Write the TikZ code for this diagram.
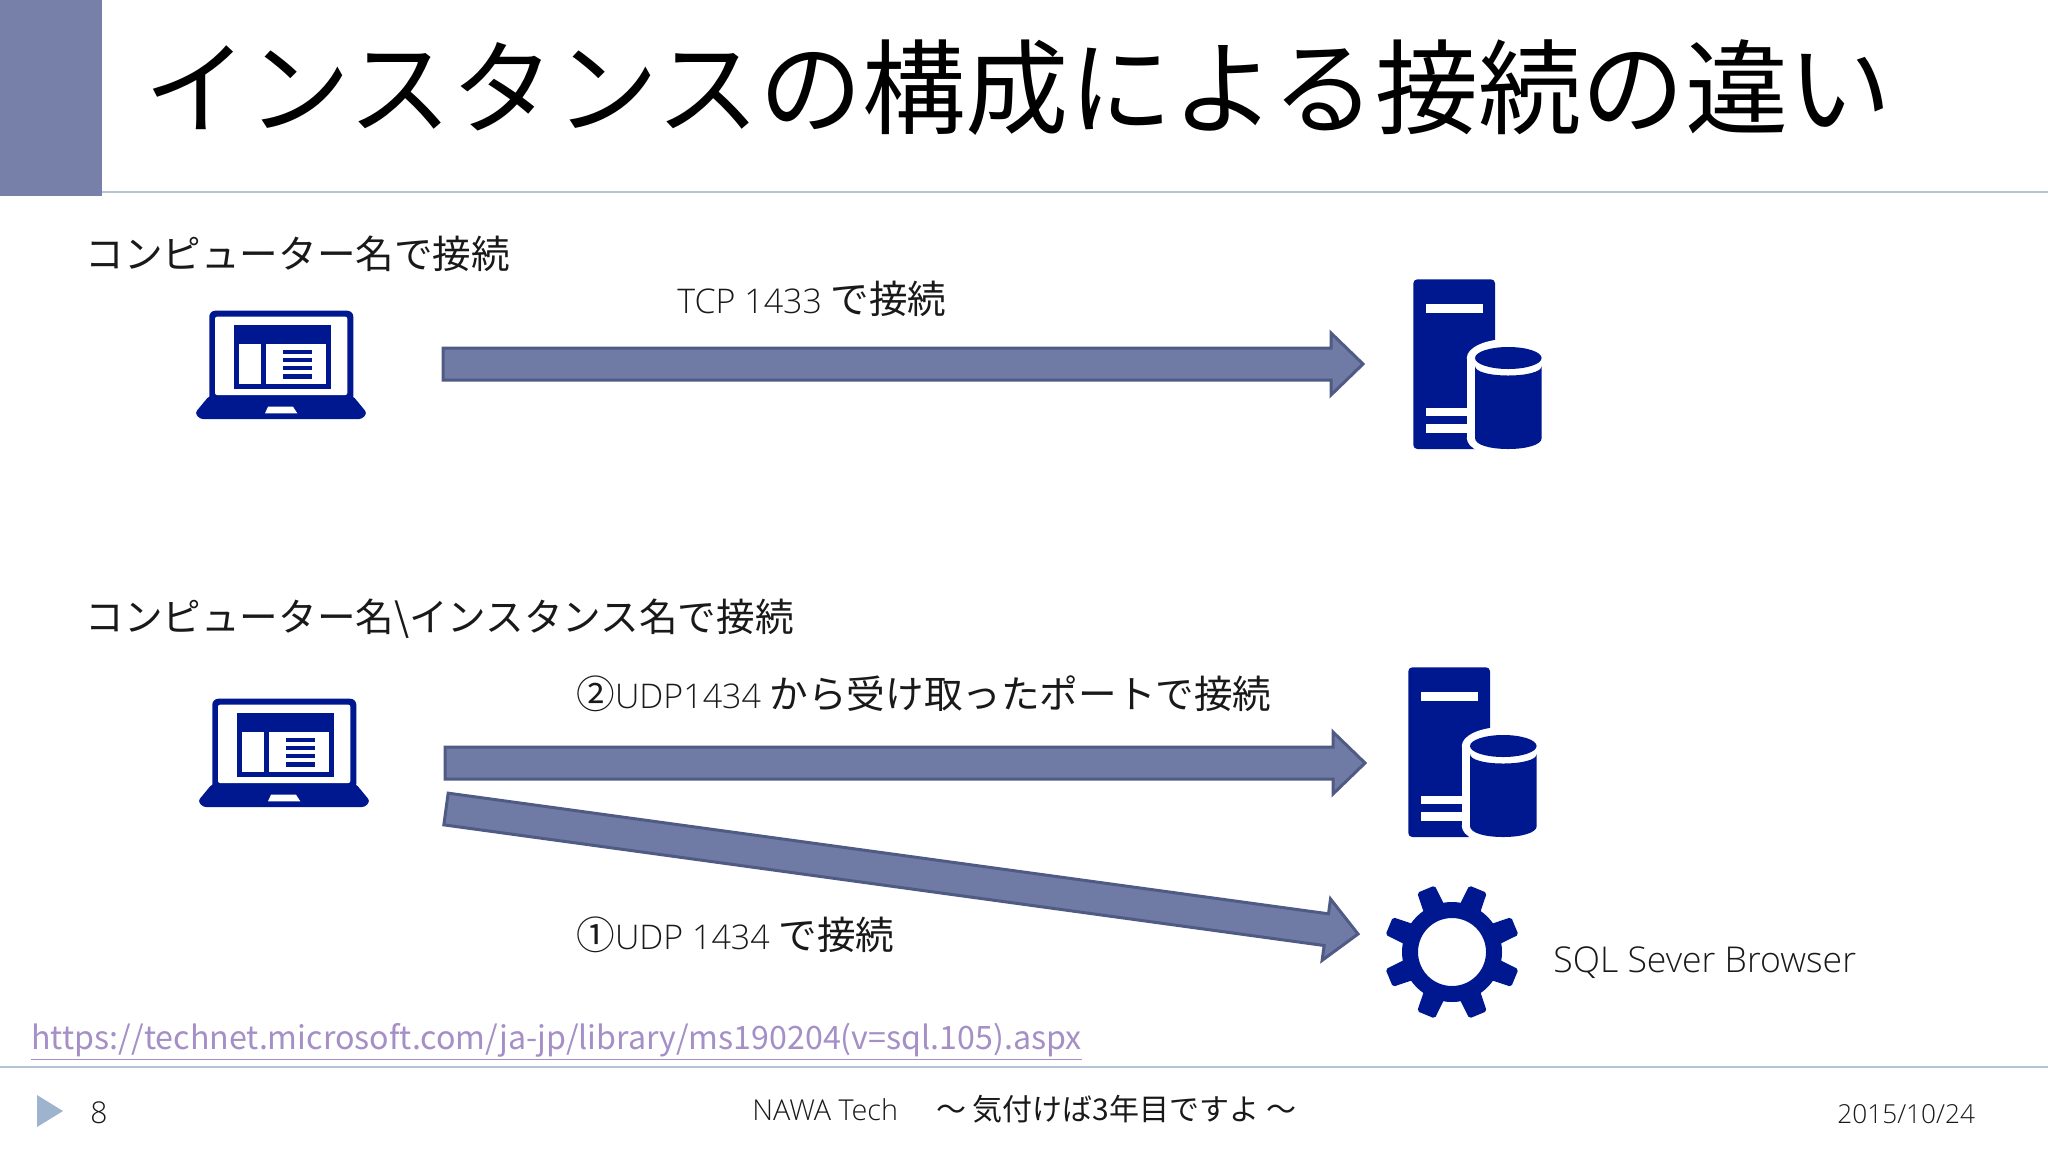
\documentclass[tikz,border=0pt]{standalone}
\usepackage{fontspec}
\setmainfont{Noto Sans CJK JP}
\newfontfamily\latinfont{Open Sans}[UprightFont=* Light]
\usetikzlibrary{calc}

\definecolor{iconblue}{HTML}{00188F}
\definecolor{arrowfill}{HTML}{6F7BA5}
\definecolor{arrowline}{HTML}{4F5A85}
\definecolor{headblock}{HTML}{7680A8}
\definecolor{ruleblue}{HTML}{B4C3D6}
\definecolor{markerblue}{HTML}{9DB3CE}
\definecolor{linkpurple}{HTML}{A58FC7}

\newcommand{\labelfont}{\fontsize{19.3}{23}\selectfont}
\newcommand{\labellatin}{\fontsize{17}{23}\selectfont\latinfont}

\tikzset{
    txt/.style={anchor=base west,inner sep=0pt,text=black!90},
    blockarrow/.style={draw=arrowline,fill=arrowfill,line width=1.5pt,to path={
        -- ($(\tikztostart)!8pt!90:(\tikztotarget)$)
        -- ($(\tikztotarget)!16pt!(\tikztostart)!8pt!-90:(\tikztostart)$)
        -- ($(\tikztotarget)!16pt!(\tikztostart)!15.5pt!-90:(\tikztostart)$)
        -- (\tikztotarget)
        -- ($(\tikztotarget)!16pt!(\tikztostart)!15.5pt!90:(\tikztostart)$)
        -- ($(\tikztotarget)!16pt!(\tikztostart)!8pt!90:(\tikztostart)$)
        -- ($(\tikztostart)!8pt!-90:(\tikztotarget)$)
        -- cycle}},
    laptop/.pic={
        \fill[iconblue,rounded corners=3pt] (29.3,112) -- (29.3,20.7) -- (173.3,20.7) -- (173.3,112) -- cycle;
        \fill[white,rounded corners=1pt] (35,26.7) -- (167.3,26.7) -- (167.3,105) -- (35,105) -- cycle;
        \fill[iconblue,rounded corners=1.5pt] (29,106) -- (173,106) -- (187,123) -- (182,129) -- (20,129) -- (15,123) -- cycle;
        \fill[iconblue] (54.3,35) rectangle (151,99.3);
        \fill[white] (59,54) rectangle (81.3,94.3);
        \fill[white] (86.3,54) rectangle (146,94.3);
        \foreach \y/\h in {60/64,68/72.3,76/80.3,84/89} {
            \fill[iconblue] (102.7,\y) rectangle (132.3,\h);
        }
        \fill[white] (88,116.7) -- (113,116.7) -- (117.3,123.3) -- (85,123.3) -- cycle;
    },
    server/.pic={
        \fill[iconblue,rounded corners=2pt] (33.3,189) -- (33.3,19.3) -- (115,19.3) -- (115,189) -- cycle;
        \fill[white] (45.7,44.3) rectangle (103.3,53.3);
        \fill[white] (45.7,148) rectangle (90,156);
        \fill[white] (45.7,164) rectangle (90,172.7);
        % halo and cylinder
        \fill[white] (128.3,98) ellipse (41.5 and 19);
        \fill[white] (86.8,98) rectangle (169.8,178);
        \fill[white] (128.3,178) ellipse (41.5 and 19);
        \fill[iconblue] (128.3,98) ellipse (33.3 and 11);
        \fill[iconblue] (95,106) .. controls (95,112) and (110,115.5) .. (128.3,115.5)
            .. controls (146,115.5) and (161.7,112) .. (161.7,106) -- (161.7,178)
            .. controls (161.7,185) and (146,189) .. (128.3,189)
            .. controls (110,189) and (95,185) .. (95,178) -- cycle;
    },
    gear/.pic={
        \fill[iconblue,even odd rule] (0,0) circle (50) (0,0) circle (34);
        \foreach \a in {22.5,67.5,...,337.5} {
            \fill[iconblue,rotate=\a,rounded corners=1pt] (46,-11) -- (68,-9.5) -- (68,9.5) -- (46,11) -- cycle;
        }
    }
}

\begin{document}
\begin{tikzpicture}[x=0.5pt,y=-0.5pt,line cap=butt,line join=miter]

\useasboundingbox (0,0) rectangle (2048,1152);

% header
\fill[headblock] (0,0) rectangle (102,196);
\draw[ruleblue,line width=1pt] (102,192) -- (2048,192);
\node[txt,text=black,font=\fontsize{51.6}{55}\selectfont] (title) at (144,126) {インスタンスの構成による接続の違い};

% first row
\node[txt,font=\labelfont] (rowA) at (85,268) {コンピューター名で接続};
\node[txt,font=\labelfont] (labelA) at (677,313) {{\labellatin TCP 1433} で接続};
\pic at (180,290) {laptop};
\pic at (1380,260) {server};
\coordinate (lapAport) at (443,364);
\coordinate (srvAport) at (1363,364);
\draw[blockarrow] (lapAport) to (srvAport);

% second row
\node[txt,font=\labelfont] (rowB) at (85,631) {コンピューター名\textbackslash インスタンス名で接続};
\node[txt,font=\labelfont] (labelB) at (576,708) {②{\labellatin UDP1434} から受け取ったポートで接続};
\node[txt,font=\labelfont] (labelC) at (576,949) {①{\labellatin UDP 1434} で接続};
\node[txt,font=\fontsize{17.8}{23}\selectfont\latinfont] (browser) at (1553,972) {SQL Sever Browser};
\pic at (183,678) {laptop};
\pic at (1375,648) {server};
\pic at (1452,952) {gear};
\coordinate (lapBport) at (445,763);
\coordinate (srvBport) at (1365,763);
\coordinate (lapBlow) at (446,809);
\coordinate (gearport) at (1358,934);
\draw[blockarrow] (lapBport) to (srvBport);
\draw[blockarrow] (lapBlow) to (gearport);

% footer
\node[txt,text=linkpurple,font=\fontsize{16.1}{20}\selectfont] (link) at (31,1049) {\underline{https://technet.microsoft.com/ja-jp/library/ms190204(v=sql.105).aspx}};
\draw[ruleblue,line width=1pt] (0,1067) -- (2048,1067);
\fill[markerblue] (37,1095) -- (63,1111) -- (37,1127) -- cycle;
\node[txt,font=\fontsize{15}{18}\selectfont\latinfont] (page) at (90,1123) {8};
\node[txt,font=\fontsize{15}{18}\selectfont] (foot) at (752,1120) {{\fontsize{14.4}{18}\selectfont\latinfont NAWA Tech}\hspace{4pt}　～ 気付けば3年目ですよ ～};
\node[txt,font=\fontsize{13.1}{18}\selectfont\latinfont] (date) at (1837,1123) {2015/10/24};

\end{tikzpicture}
\end{document}
